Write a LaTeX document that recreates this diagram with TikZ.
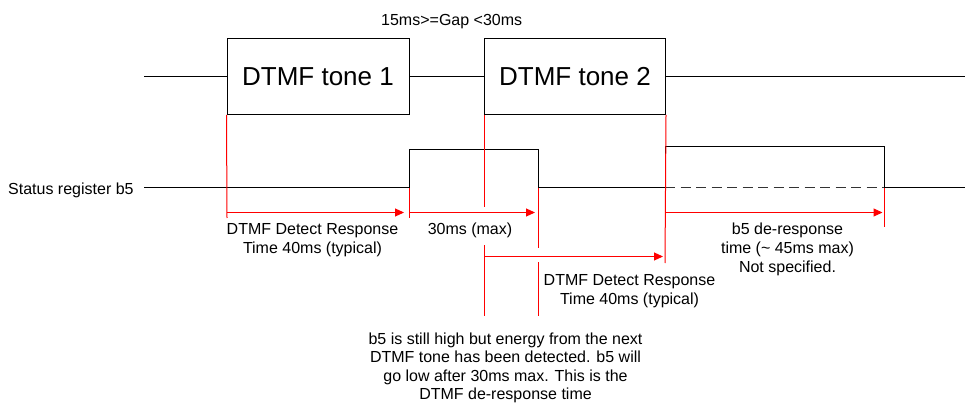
\documentclass[tikz,border=0pt]{standalone}
\usepackage{fontspec}
\setmainfont{Liberation Sans}
\usetikzlibrary{arrows.meta}
\begin{document}
\begin{tikzpicture}[x=1pt,y=-1pt,
  sig/.style={black, line width=1pt},
  tone/.style={draw, line width=1pt, minimum height=76pt, inner sep=0pt, font=\fontsize{26}{30}\selectfont},
  lbl/.style={font=\fontsize{16}{19}\selectfont, align=center, inner sep=0pt},
  redline/.style={red, line width=1pt},
  redarrow/.style={red, line width=1pt, -{Triangle[length=9pt,width=8pt]}},
]
\useasboundingbox (0,0) rectangle (965,403);
% tone boxes
\node[tone, minimum width=182pt] (t1) at (318,76.3) {DTMF tone 1};
\node[tone, minimum width=181pt] (t2) at (575,76.3) {DTMF tone 2};
\coordinate (l0) at (144,76.3);
\coordinate (l1) at (965,76.3);
\draw[sig] (l0) -- (t1.west);
\draw[sig] (t1.east) -- (t2.west);
\draw[sig] (t2.east) -- (l1);
% status register
\coordinate (s0) at (144,188);
\coordinate (r1) at (409,188);
\coordinate (f1) at (538,188);
\coordinate (r2) at (665,188);
\coordinate (f2) at (884,188);
\coordinate (s1) at (965,188);
\draw[sig] (s0) -- (r1) -- (409,150) -- (538,150) -- (f1) -- (r2) -- (665,147) -- (884,147) -- (f2) -- (s1);
\draw[black!80, line width=1pt, dash pattern=on 10pt off 5.5pt] (r2) -- (f2);
% red markers
\coordinate (a1s) at (227,212.5);
\coordinate (a1e) at (404,212.5);
\coordinate (a2s) at (409,212.5);
\coordinate (a2e) at (535,212.5);
\coordinate (a3s) at (484,256.5);
\coordinate (a3e) at (663,256.5);
\coordinate (a4s) at (665,212.5);
\coordinate (a4e) at (882.5,212.5);
\draw[redline] (t1.south west) -- (227,218);
\draw[redline] (r1) -- (409,218);
\draw[redline] (f1) -- (538,248);
\draw[redline] (538,262) -- (538,316);
\draw[redline] (t2.south west) -- (484,207);
\draw[redline] (484,245) -- (484,316);
\draw[redline] (t2.south east) -- (665,263);
\draw[redline] (f2) -- (884,227);
\draw[redarrow] (a1s) -- (a1e);
\draw[redarrow] (a2s) -- (a2e);
\draw[redarrow] (a3s) -- (a3e);
\draw[redarrow] (a4s) -- (a4e);
% labels
\node[lbl, anchor=base west] (gap) at (381,26) {15ms>=Gap <30ms};
\node[lbl, anchor=base west] (sr) at (8,194.5) {Status register b5};
\node[lbl, anchor=base] (d1) at (312.5,253) {DTMF Detect Response\\Time 40ms (typical)};
\node[lbl, anchor=base] (m30) at (470,234) {30ms (max)};
\node[lbl, anchor=base] (d2) at (629.5,304) {DTMF Detect Response\\Time 40ms (typical)};
\node[lbl, anchor=base] (dr) at (787.5,272) {b5 de-response\\time (\textasciitilde{} 45ms max)\\Not specified.};
\node[lbl, anchor=base, font=\fontsize{16}{18.3}\selectfont] (nt) at (505.5,399.5) {b5 is still high but energy from the next\\DTMF tone has been detected. b5 will\\go low after 30ms max. This is the\\DTMF de-response time};
\end{tikzpicture}
\end{document}
